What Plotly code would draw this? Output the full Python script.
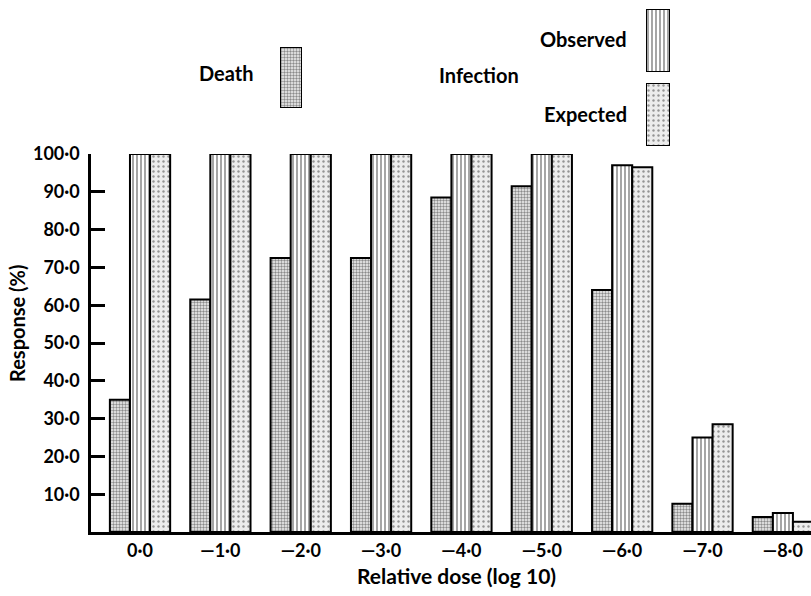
import plotly.graph_objects as go

# ---- data ----
doses = ["0·0", "—1·0", "—2·0", "—3·0", "—4·0", "—5·0", "—6·0", "—7·0", "—8·0"]
death = [35.0, 61.5, 72.5, 72.5, 88.5, 91.5, 64.0, 7.5, 4.0]
observed = [100, 100, 100, 100, 100, 100, 97.0, 25.0, 5.0]
expected = [100, 100, 100, 100, 100, 100, 96.5, 28.5, 2.7]
y_tickvals = [10, 20, 30, 40, 50, 60, 70, 80, 90, 100]
y_ticktext = ["10·0", "20·0", "30·0", "40·0", "50·0", "60·0", "70·0", "80·0", "90·0", "100·0"]

FONT = "Lato"
W, H = 811, 596
ML, MR, MT, MB = 91, 0, 0, 64
PW, PH = W - ML - MR, H - MT - MB

def px_x(p):   # pixel -> paper fraction
    return (p - ML) / PW

def px_y(p):
    return (PH + MT - p) / PH

death_style = dict(color="white", line=dict(color="black", width=2),
                   pattern=dict(shape=".", fgcolor="#222", bgcolor="#f4f4f4", size=3, solidity=0.5))
obs_style = dict(color="white", line=dict(color="black", width=2),
                 pattern=dict(shape="|", fgcolor="black", bgcolor="white", size=4, solidity=0.35))
exp_style = dict(color="white", line=dict(color="black", width=2),
                 pattern=dict(shape=".", fgcolor="#3a3a3a", bgcolor="#ececec", size=5, solidity=0.18))

fig = go.Figure()
fig.add_trace(go.Bar(x=doses, y=death, name="Death", marker=death_style))
fig.add_trace(go.Bar(x=doses, y=observed, name="Observed", marker=obs_style))
fig.add_trace(go.Bar(x=doses, y=expected, name="Expected", marker=exp_style))

# legend swatches drawn as single bars in their own small axes
swatches = [
    (death_style, (280, 302), (47, 108)),
    (obs_style, (646, 670), (9, 72)),
    (exp_style, (646, 670), (83, 146)),
]
for i, (st, (x0, x1), (y0, y1)) in enumerate(swatches):
    n = i + 2
    fig.add_trace(go.Bar(x=[0], y=[1], width=[1], marker=st, xaxis=f"x{n}", yaxis=f"y{n}",
                         showlegend=False, hoverinfo="skip"))
    fig.layout[f"xaxis{n}"] = dict(domain=[px_x(x0), px_x(x1)], range=[-0.5, 0.5], visible=False,
                                   anchor=f"y{n}", fixedrange=True, automargin=False)
    fig.layout[f"yaxis{n}"] = dict(domain=[px_y(y1), px_y(y0)], range=[0, 1], visible=False,
                                   anchor=f"x{n}", fixedrange=True, automargin=False)

tickfont = dict(family=FONT, size=18, color="black", weight="bold")
fig.update_layout(
    width=W, height=H,
    margin=dict(l=ML, r=MR, t=MT, b=MB, pad=0, autoexpand=False),
    paper_bgcolor="white", plot_bgcolor="white",
    showlegend=False,
    barmode="group", bargap=0.25, bargroupgap=0,
    font=dict(family=FONT, size=18, color="black"),
    xaxis=dict(range=[-0.61, 8.35], showgrid=False, zeroline=False, automargin=False,
               showline=True, linecolor="black", linewidth=2.5, ticks="",
               tickfont=tickfont, ticklabelstandoff=1, anchor="y"),
    yaxis=dict(domain=[0, px_y(154)], range=[0, 100], showgrid=False, zeroline=False,
               automargin=False,
               showline=True, linecolor="black", linewidth=2.5,
               tickvals=y_tickvals, ticktext=y_ticktext,
               ticks="inside", ticklen=14, tickwidth=2.5, tickcolor="black",
               tickfont=tickfont, ticklabelstandoff=5),
)

def label(text, x, y, xanchor="center", angle=0, size=20):
    fig.add_annotation(text=text, x=px_x(x), y=px_y(y), xref="paper", yref="paper",
                       xanchor=xanchor, yanchor="middle", showarrow=False, textangle=angle,
                       font=dict(family=FONT, size=size, color="black", weight="bold"))

label("Response (%)", 17, 323, angle=-90)
label("Relative dose (log 10)", 456, 575, size=21)
label("Death", 256, 73, xanchor="right")
label("Infection", 437, 75, xanchor="left")
label("Observed", 629, 39, xanchor="right")
label("Expected", 629, 114, xanchor="right")

# page body has a default margin; remove it so the figure fills the window exactly
fig.write_html("out.html", config={"displayModeBar": False},
               post_script="document.body.style.margin='0px';")
